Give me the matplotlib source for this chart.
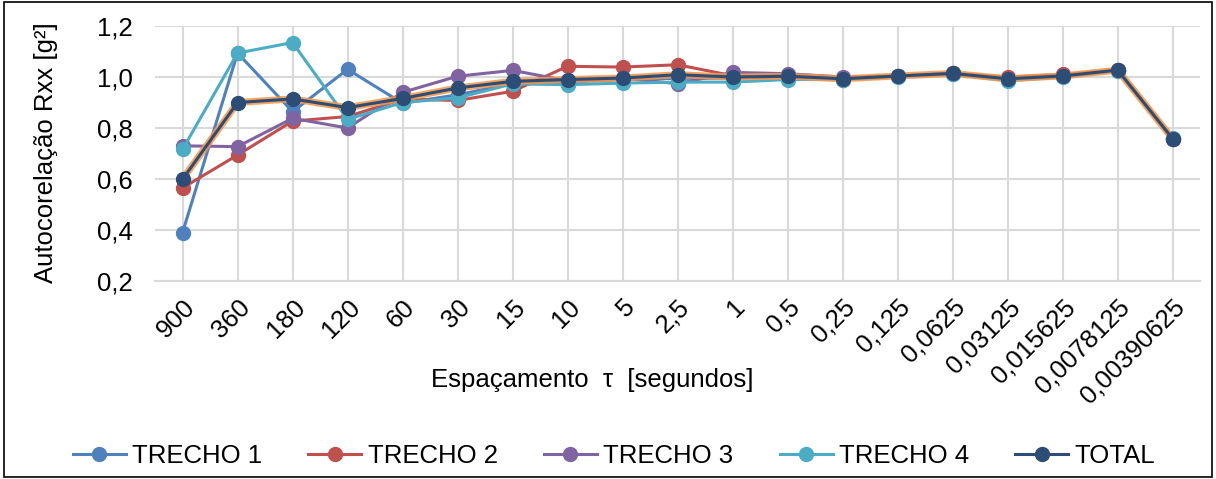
import matplotlib.pyplot as plt
from matplotlib.patches import Rectangle

plt.rcParams['font.family'] = ['Liberation Sans', 'DejaVu Sans']

espacamento = ["900", "360", "180", "120", "60", "30", "15", "10", "5", "2,5", "1",
               "0,5", "0,25", "0,125", "0,0625", "0,03125", "0,015625",
               "0,0078125", "0,00390625"]

trecho1 = [0.39, 1.094, 0.864, 1.03, 0.897, 0.93, 0.975, 0.98, 0.99, 0.995, 0.995,
           1.0, 0.995, 1.002, 1.012, 0.99, 1.002, 1.025, 0.758]
trecho2 = [0.565, 0.694, 0.827, 0.845, 0.913, 0.908, 0.944, 1.042, 1.039, 1.048, 1.005,
           1.0, 0.99, 1.002, 1.015, 1.0, 1.01, 1.027, 0.757]
trecho3 = [0.73, 0.727, 0.838, 0.80, 0.94, 1.003, 1.026, 0.985, 0.995, 0.974, 1.018,
           1.013, 1.0, 1.004, 1.016, 0.992, 1.004, 1.027, 0.755]
trecho4 = [0.716, 1.094, 1.135, 0.834, 0.90, 0.918, 0.973, 0.97, 0.976, 0.98, 0.98,
           0.99, 0.99, 1.0, 1.01, 0.985, 1.0, 1.025, 0.76]
total = [0.599, 0.90, 0.914, 0.88, 0.916, 0.957, 0.983, 0.99, 0.996, 1.009, 1.0,
         1.003, 0.993, 1.004, 1.014, 0.993, 1.004, 1.027, 0.758]

series = [("TRECHO 1", trecho1, "#4F81BD"),
          ("TRECHO 2", trecho2, "#C0504D"),
          ("TRECHO 3", trecho3, "#8064A2"),
          ("TRECHO 4", trecho4, "#4BACC6")]

fs = 18.5

fig = plt.figure(figsize=(12.16, 4.79), dpi=100)
ax = fig.add_axes([0.1275, 0.4134, 0.8595, 0.5323])

x = list(range(len(espacamento)))
for nome, valores, cor in series:
    ax.plot(x, valores, color=cor, lw=2.2, marker='o', ms=10, label=nome, zorder=3)

# contorno laranja por baixo da série total
ax.plot(x, total, color="#F79646", lw=5.0, alpha=0.85, zorder=4)
ax.plot(x, total, color="#2C4D75", lw=2.2, marker='o', ms=10, label="TOTAL", zorder=5)

ax.set_xlim(-0.5, len(espacamento) - 0.5)
ax.set_ylim(0.2, 1.2)
ax.set_yticks([0.2, 0.4, 0.6, 0.8, 1.0, 1.2])
ax.set_yticklabels([f"{v:.1f}".replace(".", ",") for v in ax.get_yticks()], fontsize=fs)
ax.set_xticks(x)
ax.set_xticklabels(espacamento, fontsize=fs, rotation=45, ha='right',
                   va='top', rotation_mode='anchor')
ax.tick_params(axis='x', length=0, pad=10)
ax.tick_params(axis='y', length=0, pad=16)
ax.grid(True, color="#D9D9D9", lw=1.5)
ax.set_axisbelow(True)
for lado in ['top', 'right', 'left']:
    ax.spines[lado].set_visible(False)
ax.spines['bottom'].set_color("#D9D9D9")
ax.spines['bottom'].set_linewidth(1.5)

fig.text(46 / 1216, 0.682, "Autocorelação Rxx [g²]", fontsize=fs, rotation=90,
         ha='center', va='center')
fig.text(0.487, 0.207, "Espaçamento  τ  [segundos]", fontsize=fs, ha='center', va='center')

fig.legend(loc='center', bbox_to_anchor=(0.505, 0.048), ncol=5, frameon=False,
           fontsize=fs, handlelength=2.06, columnspacing=1.8, handletextpad=0.25,
           borderpad=0)

fig.patches.append(Rectangle((0.003, 0.005), 0.994, 0.99, transform=fig.transFigure,
                             fill=False, edgecolor='black', lw=1.2))

fig.savefig("out.png", dpi=100)
